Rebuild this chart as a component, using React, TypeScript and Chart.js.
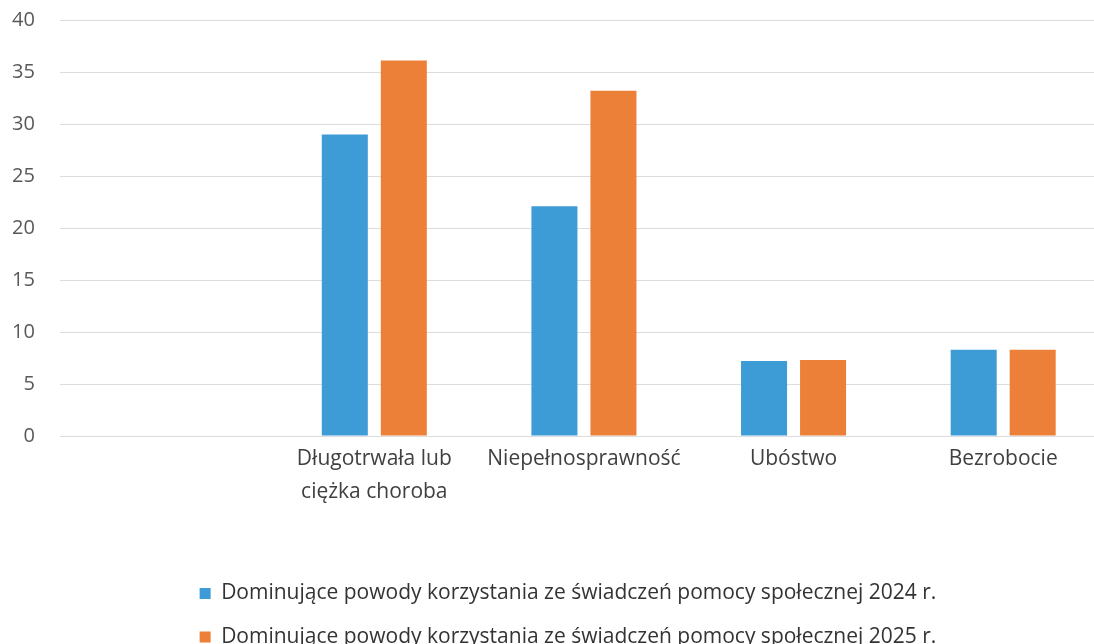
import React, { useEffect, useRef } from "react";
import { Chart, registerables } from "chart.js";

Chart.register(...registerables);

const categories: (string | string[])[] = [
  "",
  ["Długotrwała lub", "ciężka choroba"],
  "Niepełnosprawność",
  "Ubóstwo",
  "Bezrobocie",
];
const values2024: (number | null)[] = [null, 29, 22.1, 7.2, 8.3];
const values2025: (number | null)[] = [null, 36.1, 33.2, 7.3, 8.3];
const seriesLabels = [
  "Dominujące powody korzystania ze świadczeń pomocy społecznej 2024 r.",
  "Dominujące powody korzystania ze świadczeń pomocy społecznej 2025 r.",
];
const yTicks = [0, 5, 10, 15, 20, 25, 30, 35, 40];

const FONT = "'Open Sans', sans-serif";

const legendShift = {
  id: "legendShift",
  afterLayout(chart: any) {
    const lg = chart.legend;
    if (lg) {
      lg.left += 8;
      lg.right += 8;
    }
  },
};

export default function App() {
  const ref = useRef<HTMLCanvasElement | null>(null);
  useEffect(() => {
    if (!ref.current) return;
    const chart = new Chart(ref.current, {
      type: "bar",
      data: {
        labels: categories as any,
        datasets: [
          {
            label: seriesLabels[0],
            data: values2024,
            backgroundColor: "#3d9bd6",
            borderWidth: 0,
            categoryPercentage: 0.563,
            barPercentage: 0.78,
          },
          {
            label: seriesLabels[1],
            data: values2025,
            backgroundColor: "#ec8038",
            borderWidth: 0,
            categoryPercentage: 0.563,
            barPercentage: 0.78,
          },
        ],
      },
      plugins: [legendShift],
      options: {
        responsive: false,
        animation: false,
        layout: { padding: { left: 12, right: 22, top: 20, bottom: 4.5 } },
        plugins: {
          title: { display: false },
          tooltip: { enabled: false },
          legend: {
            position: "bottom",
            labels: {
              boxWidth: 11,
              boxHeight: 11,
              padding: 22.5,
              color: "#333333",
              font: { family: FONT, size: 21 },
            },
          },
        },
        scales: {
          x: {
            grid: { display: false, drawTicks: false },
            border: { display: false },
            afterFit: (scale: any) => {
              scale.height = 124.5;
            },
            ticks: {
              color: "#404040",
              padding: 6,
              maxRotation: 0,
              autoSkip: false,
              font: { family: FONT, size: 21, lineHeight: 1.6 },
            },
          },
          y: {
            min: 0,
            max: 40,
            afterBuildTicks: (axis: any) => {
              axis.ticks = yTicks.map((v) => ({ value: v }));
            },
            grid: {
              color: "#dcdcdc",
              lineWidth: 1,
              drawTicks: true,
              tickLength: 25,
              tickColor: "rgba(0,0,0,0)",
            },
            border: { display: false },
            ticks: {
              color: "#595959",
              padding: 0,
              font: { family: FONT, size: 20 },
            },
          },
        },
      },
    });
    return () => chart.destroy();
  }, []);
  return (
    <div
      style={{
        position: "fixed",
        top: 0,
        left: 0,
        width: 1094,
        height: 644,
        overflow: "hidden",
        background: "#ffffff",
      }}
    >
      <canvas ref={ref} width={1130} height={662} style={{ display: "block" }} />
    </div>
  );
}
